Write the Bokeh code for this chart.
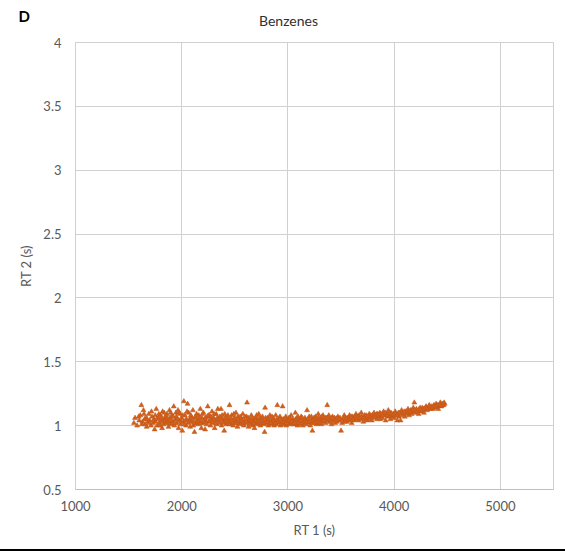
from bokeh.plotting import figure
from bokeh.models import Label, FixedTicker, Div, Range1d
from bokeh.layouts import column
from bokeh.embed import file_html
from bokeh.resources import INLINE

# First-dimension retention time (s) of each benzene peak
rt1 = [
    1550, 1560, 1580, 1600, 1610, 1620, 1630, 1640, 1650,
    1655, 1665, 1670, 1680, 1690, 1700, 1710, 1720, 1730, 1740, 1745,
    1755, 1760, 1770, 1780, 1790, 1800, 1805, 1815, 1820, 1830, 1840, 1845,
    1855, 1860, 1870, 1875, 1885, 1890, 1900, 1910, 1915, 1925, 1930, 1940, 1945,
    1950, 1955, 1965, 1970, 1980, 1985, 1990, 2000, 2005, 2015, 2020, 2030, 2040, 2045,
    2055, 2060, 2065, 2075, 2080, 2090, 2095, 2105, 2110, 2120, 2125, 2135, 2140, 2145,
    2155, 2160, 2170, 2175, 2185, 2190, 2200, 2205, 2215, 2220, 2230, 2240, 2245,
    2255, 2260, 2270, 2280, 2285, 2295, 2300, 2310, 2315, 2325, 2330, 2340, 2345,
    2355, 2360, 2370, 2375, 2385, 2390, 2400, 2405, 2415, 2420, 2430, 2440, 2450,
    2455, 2465, 2470, 2480, 2485, 2495, 2500, 2510, 2515, 2525, 2530, 2540, 2545,
    2555, 2560, 2570, 2575, 2585, 2590, 2600, 2610, 2615, 2620, 2630, 2640, 2645,
    2655, 2660, 2670, 2680, 2685, 2690, 2700, 2710, 2715, 2725, 2730, 2740, 2745,
    2755, 2760, 2770, 2780, 2785, 2795, 2800, 2810, 2815, 2825, 2830, 2840, 2845,
    2855, 2860, 2870, 2875, 2885, 2890, 2900, 2905, 2915, 2920, 2930, 2940, 2950,
    2955, 2965, 2970, 2980, 2985, 2995, 3000, 3010, 3015, 3025, 3030, 3040, 3045,
    3055, 3060, 3070, 3080, 3085, 3090, 3100, 3110, 3115, 3125, 3130, 3140, 3145,
    3155, 3160, 3170, 3180, 3185, 3195, 3200, 3210, 3215, 3225, 3230, 3240, 3245,
    3255, 3260, 3270, 3280, 3285, 3295, 3300, 3310, 3315, 3325, 3330, 3340, 3345,
    3355, 3360, 3370, 3380, 3385, 3395, 3400, 3410, 3420, 3430, 3440, 3445,
    3455, 3460, 3470, 3480, 3490, 3500, 3510, 3520, 3530, 3540, 3545,
    3555, 3565, 3570, 3580, 3590, 3600, 3610, 3620, 3630, 3640, 3645,
    3655, 3665, 3670, 3680, 3690, 3700, 3710, 3720, 3730, 3740, 3745,
    3755, 3765, 3770, 3780, 3790, 3800, 3810, 3820, 3830, 3840, 3845,
    3855, 3865, 3870, 3880, 3890, 3900, 3910, 3920, 3930, 3940, 3945,
    3955, 3965, 3970, 3980, 3990, 4000, 4010, 4020, 4030, 4040, 4045,
    4055, 4060, 4070, 4080, 4090, 4100, 4110, 4120, 4130, 4140, 4145,
    4155, 4165, 4170, 4180, 4190, 4200, 4210, 4220, 4230, 4240, 4245,
    4255, 4265, 4270, 4280, 4290, 4300, 4310, 4320, 4330, 4340,
    4355, 4365, 4375, 4385, 4395, 4405, 4415, 4425, 4435, 4445, 4455, 4465, 4475,
    # core of the band
    1595, 1625, 1645, 1675, 1695, 1715, 1735, 1750,
    1765, 1785, 1795, 1810, 1825, 1835, 1850,
    1865, 1880, 1895, 1905, 1920, 1935,
    1960, 1975, 1995, 2010, 2025, 2035, 2050,
    2070, 2085, 2100, 2115, 2130, 2150,
    2165, 2180, 2195, 2210, 2225, 2235, 2250,
    2265, 2275, 2290, 2305, 2320, 2335, 2350,
    2365, 2380, 2395, 2410, 2425, 2435, 2445,
    2460, 2475, 2490, 2505, 2520, 2535, 2550,
    2565, 2580, 2595, 2605, 2625, 2635, 2650,
    2665, 2675, 2695, 2705, 2720, 2735, 2750,
    2765, 2775, 2790, 2805, 2820, 2835, 2850,
    2865, 2880, 2895, 2910, 2925, 2935, 2945,
    2960, 2975, 2990, 3005, 3020, 3035, 3050,
    3065, 3075, 3095, 3105, 3120, 3135, 3150,
    3165, 3175, 3190, 3205, 3220, 3235, 3250,
    3265, 3275, 3290, 3305, 3320, 3335, 3350,
    3365, 3375, 3390, 3405, 3415, 3435, 3450,
    3465, 3485, 3505, 3525, 3535, 3550,
    3575, 3595, 3615, 3635, 3650,
    3675, 3695, 3715, 3735, 3750,
    3775, 3795, 3815, 3835, 3850,
    3875, 3895, 3915, 3935, 3950,
    3975, 3995, 4015, 4035, 4050,
    4075, 4095, 4115, 4135, 4150,
    4175, 4195, 4215, 4235, 4250,
    4275, 4295, 4315, 4335, 4350,
    4370, 4390, 4410, 4430, 4450, 4470,
]

# Second-dimension retention time (s), same order as rt1
rt2 = [
    1.02, 1.06, 1.00, 1.04, 1.08, 1.16, 1.03, 1.12, 1.05,
    1.01, 1.06, 0.99, 1.03, 1.09, 1.04, 1.00, 1.07, 1.02, 1.05, 0.97,
    1.03, 1.13, 1.00, 1.06, 1.02, 1.08, 1.04, 0.98, 1.11, 1.01, 1.05, 1.07,
    1.02, 1.09, 1.04, 0.99, 1.12, 1.06, 1.01, 1.08, 1.03, 1.15, 1.00, 1.05, 1.10,
    1.07, 1.02, 1.12, 0.98, 1.04, 1.09, 1.01, 1.06, 0.96, 1.03, 1.19, 1.08, 1.00, 1.05,
    1.17, 1.02, 1.10, 1.05, 0.99, 1.07, 1.03, 1.12, 1.00, 0.95, 1.06, 1.02, 1.09, 1.04,
    1.01, 1.08, 1.04, 1.13, 0.98, 1.06, 1.02, 1.10, 1.05, 0.97, 1.03, 1.07, 1.15,
    1.03, 1.08, 1.00, 1.05, 1.11, 1.02, 1.06, 0.98, 1.04, 1.09, 1.01, 1.13, 1.05,
    1.02, 1.07, 1.13, 1.00, 1.05, 1.03, 0.96, 1.09, 1.04, 1.01, 1.06, 1.03, 1.16,
    1.04, 1.01, 1.08, 1.03, 1.00, 1.06, 1.02, 1.10, 1.04, 0.99, 1.07, 1.02, 1.05,
    1.01, 1.06, 1.03, 1.09, 1.00, 1.04, 1.02, 1.07, 1.18, 1.03, 0.99, 1.05, 1.02,
    1.08, 1.03, 1.00, 1.05, 0.98, 1.02, 1.06, 1.01, 1.04, 1.09, 1.02, 1.00, 1.05,
    1.03, 1.07, 1.01, 0.95, 1.14, 1.04, 1.02, 1.06, 1.00, 1.03, 1.08, 1.01, 1.04,
    1.02, 1.06, 1.00, 1.03, 1.08, 1.01, 1.16, 1.04, 1.02, 1.06, 1.00, 1.03, 1.15,
    1.05, 1.01, 1.03, 1.07, 1.00, 1.04, 1.02, 1.06, 1.01, 1.03, 1.08, 1.02, 1.05,
    1.01, 1.04, 1.10, 1.02, 1.06, 1.00, 1.03, 1.05, 1.01, 1.07, 1.03, 1.00, 1.04,
    1.02, 1.06, 1.01, 1.12, 1.04, 1.02, 1.07, 1.00, 1.03, 1.05, 0.96, 1.02, 1.06,
    1.03, 1.07, 1.01, 1.05, 1.09, 1.02, 1.04, 1.06, 1.01, 1.04, 1.08, 1.03, 1.05,
    1.02, 1.06, 1.16, 1.04, 1.08, 1.03, 1.05, 1.01, 1.07, 1.04, 1.06, 1.02,
    1.05, 1.03, 1.07, 1.04, 1.06, 0.96, 1.02, 1.05, 1.08, 1.04, 1.06,
    1.03, 1.06, 1.04, 1.08, 1.05, 1.02, 1.07, 1.04, 1.06, 1.09, 1.05,
    1.07, 1.04, 1.08, 1.05, 1.10, 1.06, 1.03, 1.08, 1.05, 1.07, 1.04,
    1.06, 1.09, 1.05, 1.08, 1.04, 1.07, 1.10, 1.06, 1.08, 1.05, 1.09,
    1.07, 1.10, 1.05, 1.08, 1.06, 1.11, 1.08, 1.04, 1.09, 1.07, 1.12,
    1.08, 1.05, 1.10, 1.07, 1.09, 1.06, 1.11, 1.08, 1.04, 1.10, 1.07,
    1.09, 1.04, 1.12, 1.08, 1.10, 1.07, 1.11, 1.09, 1.13, 1.08, 1.10,
    1.12, 1.09, 1.11, 1.14, 1.18, 1.10, 1.13, 1.11, 1.09, 1.12, 1.14,
    1.11, 1.14, 1.12, 1.10, 1.13, 1.15, 1.12, 1.14, 1.16, 1.13,
    1.15, 1.13, 1.16, 1.14, 1.17, 1.15, 1.13, 1.16, 1.18, 1.15, 1.17, 1.16, 1.17,
    # core of the band
    1.07, 1.01, 1.09, 1.05, 1.02, 1.11, 1.04, 1.08,
    1.05, 1.09, 1.00, 1.06, 1.03, 1.10, 1.04,
    1.06, 1.02, 1.10, 1.04, 1.07, 1.02,
    1.05, 1.10, 1.03, 1.08, 1.01, 1.04, 1.11,
    1.03, 1.08, 1.05, 1.02, 1.07, 1.03,
    1.06, 1.02, 1.09, 1.03, 1.06, 1.01, 1.08,
    1.04, 1.07, 1.03, 1.09, 1.02, 1.06, 1.04,
    1.05, 1.08, 1.02, 1.06, 1.03, 1.08, 1.01,
    1.06, 1.03, 1.09, 1.05, 1.02, 1.04, 1.07,
    1.04, 1.02, 1.07, 1.03, 1.06, 1.01, 1.04,
    1.06, 1.02, 1.04, 1.08, 1.03, 1.06, 1.02,
    1.04, 1.02, 1.06, 1.03, 1.05, 1.02, 1.07,
    1.04, 1.02, 1.05, 1.03, 1.07, 1.04, 1.01,
    1.03, 1.05, 1.02, 1.04, 1.06, 1.03, 1.01,
    1.02, 1.05, 1.07, 1.02, 1.04, 1.06, 1.03,
    1.04, 1.03, 1.05, 1.03, 1.07, 1.04, 1.02,
    1.05, 1.03, 1.06, 1.02, 1.07, 1.04, 1.06,
    1.04, 1.06, 1.05, 1.03, 1.06, 1.05, 1.04,
    1.06, 1.05, 1.04, 1.06, 1.03, 1.05,
    1.06, 1.07, 1.05, 1.07, 1.06,
    1.06, 1.07, 1.06, 1.08, 1.07,
    1.07, 1.08, 1.07, 1.09, 1.08,
    1.09, 1.08, 1.10, 1.08, 1.10,
    1.09, 1.08, 1.09, 1.08, 1.10,
    1.10, 1.11, 1.10, 1.11, 1.11,
    1.12, 1.12, 1.11, 1.13, 1.12,
    1.13, 1.14, 1.13, 1.15, 1.14,
    1.15, 1.15, 1.16, 1.16, 1.16, 1.18,
]

assert len(rt1) == len(rt2)

x_ticks = [1000, 2000, 3000, 4000, 5000]
y_ticks = [0.5, 1, 1.5, 2, 2.5, 3, 3.5, 4]
y_tick_labels = ["0.5", "1", "1.5", "2", "2.5", "3", "3.5", "4"]

FONT = "Lato"
GRID = "#d0d0d0"
TEXT = "#595959"

# Heading strip: panel letter and chart title (pixel coordinates)
head = figure(
    width=565, height=35,
    x_range=Range1d(0, 565), y_range=Range1d(35, 0),
    output_backend="svg", toolbar_location=None,
    x_axis_type=None, y_axis_type=None, min_border=0,
    background_fill_color="white", border_fill_color="white",
)
head.frame_align = False
head.outline_line_color = None
head.grid.visible = False
head.add_layout(Label(x=288, y=20, text="Benzenes", text_align="center",
                      text_baseline="middle", text_font=FONT,
                      text_font_size="14px", text_color="#303030"))
head.add_layout(Label(x=18, y=15, text="D", text_align="left",
                      text_baseline="middle", text_font=FONT,
                      text_font_size="15px", text_font_style="bold",
                      text_color="#000000"))

p = figure(
    width=565, height=514,
    x_range=Range1d(1000, 5500), y_range=Range1d(0.5, 4),
    output_backend="svg", toolbar_location=None,
    min_border_left=75, min_border_right=12, min_border_top=7, min_border_bottom=60,
    background_fill_color="white", border_fill_color="white",
)
p.frame_align = False
p.outline_line_color = GRID
p.outline_line_width = 1

p.xaxis.ticker = FixedTicker(ticks=x_ticks)
p.yaxis.ticker = FixedTicker(ticks=y_ticks)
p.yaxis.major_label_overrides = {t: s for t, s in zip(y_ticks, y_tick_labels)}
p.xgrid.ticker = FixedTicker(ticks=x_ticks)
p.ygrid.ticker = FixedTicker(ticks=y_ticks)
p.xgrid.grid_line_color = GRID
p.ygrid.grid_line_color = GRID

for ax in (p.xaxis, p.yaxis):
    ax.major_tick_line_color = None
    ax.minor_tick_line_color = None
    ax.major_tick_out = 0
    ax.major_tick_in = 0
    ax.major_label_text_font = FONT
    ax.major_label_text_font_size = "13px"
    ax.major_label_text_color = TEXT
    ax.axis_label_text_font = FONT
    ax.axis_label_text_font_size = "13px"
    ax.axis_label_text_font_style = "normal"
    ax.axis_label_text_color = TEXT

p.xaxis.axis_line_color = "#bfbfbf"
p.yaxis.axis_line_color = None
p.xaxis.major_label_standoff = 11
p.yaxis.major_label_standoff = 14
p.xaxis.axis_label = "RT 1 (s)"
p.yaxis.axis_label = "RT 2 (s)"
p.xaxis.axis_label_standoff = 8
p.yaxis.axis_label_standoff = 6

p.scatter(rt1, rt2, marker="triangle", size=5,
          fill_color="#d2601a", line_color="#c0561a", line_width=0.5)

rule = Div(width=565, height=2, margin=0, styles={"background-color": "black"})
layout = column(head, p, rule, spacing=0)

open("out.html", "w").write(file_html(layout, INLINE))
